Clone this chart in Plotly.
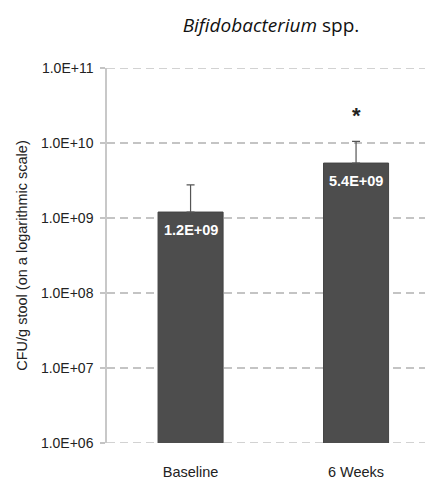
import math
import plotly.graph_objects as go

categories = ["Baseline", "6 Weeks"]
values = [1.2e9, 5.4e9]
errors_plus = [1.57e9, 5.1e9]
bar_labels = ["1.2E+09", "5.4E+09"]
significance = ["", "*"]
tick_values = [1e6, 1e7, 1e8, 1e9, 1e10, 1e11]
tick_labels = ["1.0E+06", "1.0E+07", "1.0E+08", "1.0E+09", "1.0E+10", "1.0E+11"]

# the page body has an 8px default margin, so the figure is sized to fit inside it
W, H = 425, 470

fig = go.Figure()

# edge gridlines (plotly omits gridlines at the range boundaries)
for tv in (tick_values[0], tick_values[-1]):
    fig.add_shape(type="line", xref="paper", x0=0, x1=1, yref="y", y0=tv, y1=tv,
                  line=dict(color="#c4c4c4", width=1.5, dash="8px,5px"), layer="below")

fig.add_trace(go.Bar(
    x=categories, y=values, width=0.393,
    marker=dict(color="#4d4d4d", line=dict(color="#444444", width=1)),
    error_y=dict(type="data", symmetric=False, array=errors_plus,
                 arrayminus=[0, 0], color="#555555", thickness=1.2, width=4),
    hoverinfo="skip",
))

for cat, v, lab in zip(categories, values, bar_labels):
    fig.add_annotation(x=cat, y=math.log10(v), text=f"<b>{lab}</b>", showarrow=False,
                       yanchor="middle", yshift=-18,
                       font=dict(family="Liberation Sans, Arial", size=14.5, color="white"))

for cat, v, e, s in zip(categories, values, errors_plus, significance):
    if s:
        fig.add_annotation(x=cat, y=math.log10(v + e), text=f"<b>{s}</b>", showarrow=False,
                           yanchor="middle", yshift=26,
                           font=dict(family="Liberation Sans, Arial", size=22, color="#222222"))

fig.update_layout(
    width=W, height=H,
    margin=dict(l=99, r=0, t=60, b=35),
    paper_bgcolor="white", plot_bgcolor="white",
    showlegend=False,
    title=dict(text="<i>Bifidobacterium</i> spp.", x=263/W, xanchor="center",
               y=1 - 17/H, yanchor="middle", yref="container",
               font=dict(family="Open Sans", size=19, color="#111111")),
    xaxis=dict(range=[-0.505, 1.465], showline=False, ticks="", showgrid=False,
               automargin=False,
               tickfont=dict(family="Liberation Sans, Arial", size=14.5, color="#222222"),
               ticklabelstandoff=18),
    yaxis=dict(type="log", range=[6, 11], tickvals=tick_values, ticktext=tick_labels,
               automargin=False,
               showgrid=True, gridcolor="#c4c4c4", gridwidth=1.5, griddash="8px,5px",
               showline=True, linecolor="#c8c8c8", linewidth=1.5,
               ticks="outside", ticklen=5, tickcolor="#c4c4c4", tickwidth=1.5,
               ticklabelstandoff=4, zeroline=False,
               tickfont=dict(family="Liberation Sans, Arial", size=14, color="#222222"),
               title=dict(text="CFU/g stool (on a logarithmic scale)", standoff=10,
                          font=dict(family="Liberation Sans, Arial", size=14.5, color="#222222"))),
)

fig.write_html("out.html")
